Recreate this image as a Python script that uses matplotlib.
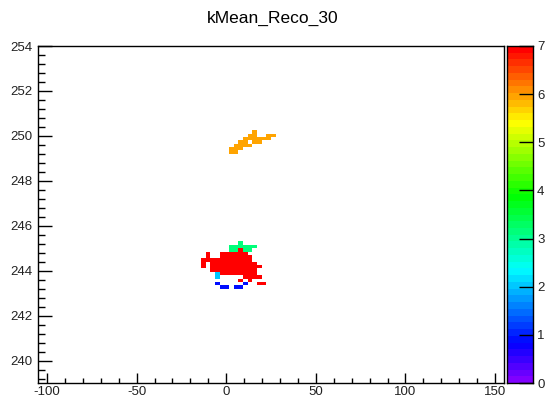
import numpy as np
import matplotlib
matplotlib.use('Agg')
import matplotlib.pyplot as plt
import colorsys
from matplotlib.colors import ListedColormap, BoundaryNorm
from matplotlib.ticker import MultipleLocator

plt.rcParams['font.family'] = ['Liberation Sans', 'DejaVu Sans']
plt.rcParams['axes.unicode_minus'] = False

# histogram binning
x_lo, x_hi, nx = -105.0, 155.0, 100
y_lo, y_hi, ny = 239.0, 254.0, 100

# cell contents, '.' = empty bin
levels = {'R': 7.0, 'O': 6.0, 'G': 3.2, 'C': 2.0, 'B': 0.9}

# main cluster around (0, 244.3): first column bin, top row bin
main_col0, main_row0 = 35, 41
main_cells = [
    "........G.....",
    "......GGGGGG..",
    "......GGRGG...",
    ".R..RRRRRR....",
    ".R..RRRRRRR...",
    "RRRRRRRRRRR...",
    "R.RRRRRRRRRR..",
    "R.RRRRRRRRRRR.",
    "..RRRRRRRRRR..",
    "...CRRRRRRRR..",
    "...C.....RRRR.",
    "........R.R...",
    "...B.....B..RR",
    "....BB.BB.....",
]

# upper cluster around (12, 249.6)
upper_col0, upper_row0 = 41, 74
upper_cells = [
    ".....O....",
    "....OO..OO",
    "...OOOOOO.",
    "..OO.OO...",
    ".OOOO.....",
    "OOO.......",
    "OO........",
]

H = np.zeros((ny, nx))
for cells, c0, r0 in [(main_cells, main_col0, main_row0),
                      (upper_cells, upper_col0, upper_row0)]:
    for k, row in enumerate(cells):
        for i, ch in enumerate(row):
            if ch != '.':
                H[r0 - k, c0 + i] = levels[ch]
H = np.ma.masked_equal(H, 0)

xe = np.linspace(x_lo, x_hi, nx + 1)
ye = np.linspace(y_lo, y_hi, ny + 1)

# ROOT-like rainbow palette, 50 colours violet -> red
ncol = 50
cols = [colorsys.hsv_to_rgb((270 * (1 - i / (ncol - 1))) / 360, 1, 1) for i in range(ncol)]
cmap = ListedColormap(cols)
norm = BoundaryNorm(np.linspace(0, 7, ncol + 1), ncol)

fig = plt.figure(figsize=(5.46, 3.99), dpi=100)
W, Hpx = 546, 399
ax = fig.add_axes([38 / W, 16 / Hpx, 466 / W, 337 / Hpx])
cax = fig.add_axes([507 / W, 16 / Hpx, 26 / W, 337 / Hpx])

ax.pcolormesh(xe, ye, H, cmap=cmap, norm=norm)
ax.set_xlim(x_lo, x_hi)
ax.set_ylim(y_lo, y_hi)
ax.xaxis.set_major_locator(MultipleLocator(50))
ax.xaxis.set_minor_locator(MultipleLocator(10))
ax.yaxis.set_major_locator(MultipleLocator(2))
ax.yaxis.set_minor_locator(MultipleLocator(0.4))
ax.tick_params(which='both', direction='in', labelsize=9.5, width=1, color='black',
               labelcolor='#222222')
ax.tick_params(axis='y', which='major', length=10, pad=4)
ax.tick_params(axis='y', which='minor', length=5)
ax.tick_params(axis='x', which='major', length=7, pad=2)
ax.tick_params(axis='x', which='minor', length=3.6)
for s in ax.spines.values():
    s.set_linewidth(1)

# palette axis
zv = np.linspace(0, 7, ncol + 1)
cax.pcolormesh([0, 1], zv, (zv[:-1] + 3.5 / ncol).reshape(-1, 1), cmap=cmap, norm=norm)
cax.set_xlim(0, 1)
cax.set_ylim(0, 7)
cax.set_xticks([])
cax.yaxis.tick_right()
cax.yaxis.set_major_locator(MultipleLocator(1))
cax.tick_params(axis='y', direction='in', length=10, width=1, labelsize=9.5, pad=3,
                labelcolor='#222222')
for s in cax.spines.values():
    s.set_linewidth(1)

fig.text(0.5, 1 - 18 / Hpx, 'kMean_Reco_30', ha='center', va='center', fontsize=12.5)

fig.savefig('out.png', dpi=100)
